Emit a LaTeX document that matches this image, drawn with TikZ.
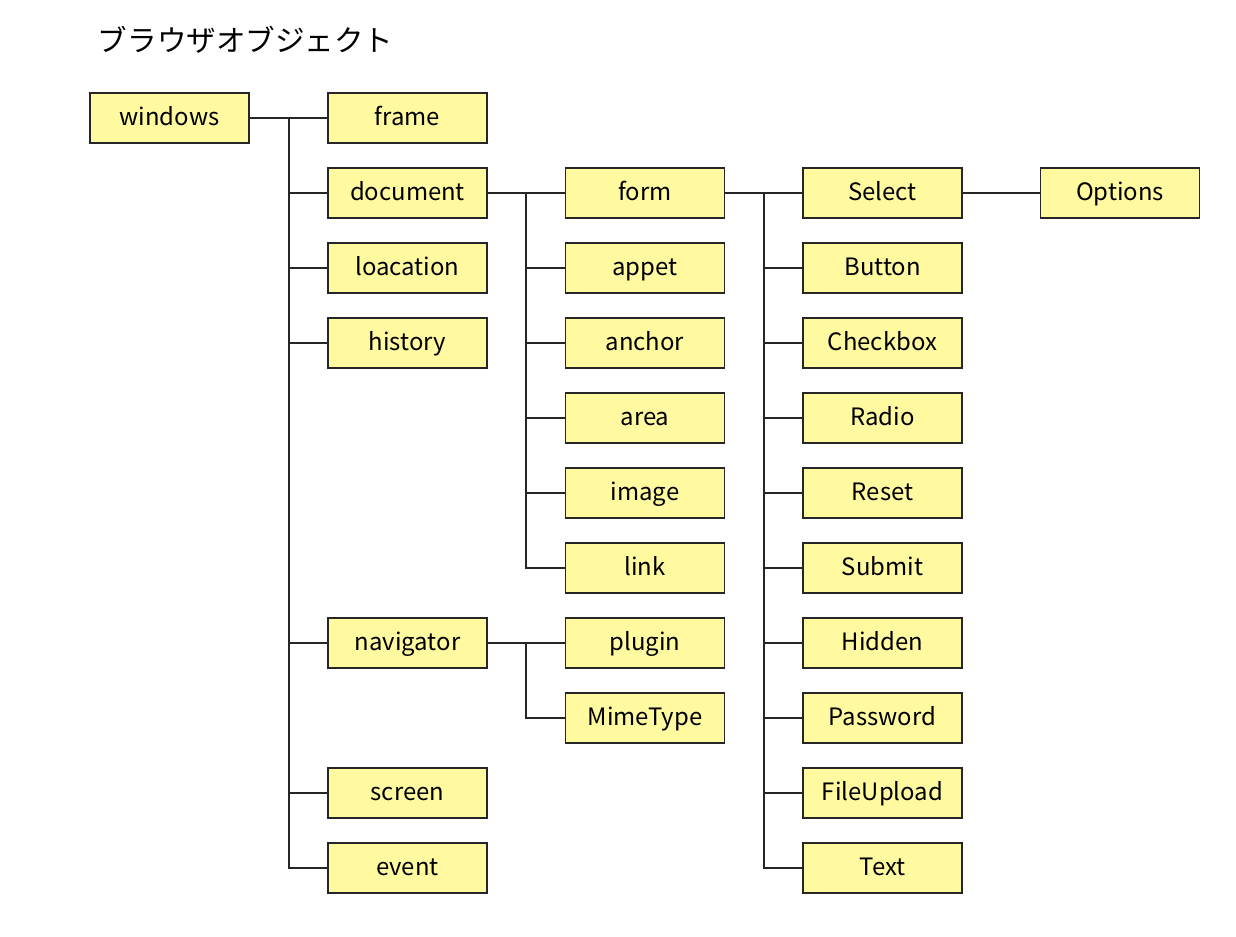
\documentclass[tikz,border=0pt]{standalone}
\usepackage{fontspec}
\setmainfont{Noto Sans CJK JP}
\usepackage{tikz}
\usetikzlibrary{positioning,calc}

\definecolor{boxfill}{RGB}{255,250,160}
\tikzset{
  objbox/.style={draw=black!85, fill=boxfill, line width=1.3pt, minimum width=3.975cm,
    minimum height=1.25cm, inner sep=0pt, text height=2ex, text depth=0.15ex,
    font=\fontsize{17}{20}\selectfont},
  link/.style={line width=1.3pt, black!85}
}

\begin{document}
\begin{tikzpicture}[x=0.025cm, y=-0.025cm]
        \useasboundingbox (0,0) rectangle (1236,936);
        \node[anchor=west, font=\fontsize{21}{25}\selectfont] (title) at (93,40) {ブラウザオブジェクト};

        % column 1 and 2
        \node[objbox] (windows) at (169.5,118) {windows};
        \node[objbox] (frame) at (407.5,118) {frame};
        \node[objbox] (document) at (407.5,193) {document};
        \node[objbox] (location) at (407.5,268) {loacation};
        \node[objbox] (history) at (407.5,343) {history};
        \node[objbox] (navigator) at (407.5,643) {navigator};
        \node[objbox] (screen) at (407.5,793) {screen};
        \node[objbox] (event) at (407.5,868) {event};

        % column 3
        \node[objbox] (form) at (645,193) {form};
        \node[objbox] (appet) at (645,268) {appet};
        \node[objbox] (anchor) at (645,343) {anchor};
        \node[objbox] (area) at (645,418) {area};
        \node[objbox] (image) at (645,493) {image};
        \node[objbox] (linkobj) at (645,568) {link};
        \node[objbox] (plugin) at (645,643) {plugin};
        \node[objbox] (mimetype) at (645,718) {MimeType};

        % column 4 and 5
        \node[objbox] (select) at (882.5,193) {Select};
        \node[objbox] (button) at (882.5,268) {Button};
        \node[objbox] (checkbox) at (882.5,343) {Checkbox};
        \node[objbox] (radio) at (882.5,418) {Radio};
        \node[objbox] (reset) at (882.5,493) {Reset};
        \node[objbox] (submit) at (882.5,568) {Submit};
        \node[objbox] (hidden) at (882.5,643) {Hidden};
        \node[objbox] (password) at (882.5,718) {Password};
        \node[objbox] (fileupload) at (882.5,793) {FileUpload};
        \node[objbox] (text) at (882.5,868) {Text};
        \node[objbox] (options) at (1120,193) {Options};

        % bus lines
        \coordinate (busA) at (289,118);
        \coordinate (busB) at (526,193);
        \coordinate (busC) at (526,643);
        \coordinate (busD) at (764,193);

        \draw[link] (windows) -- (frame);
        \foreach \n in {document,location,history,navigator,screen,event}
          \draw[link] (busA) |- (\n.west);

        \draw[link] (document) -- (form);
        \foreach \n in {appet,anchor,area,image,linkobj}
          \draw[link] (busB) |- (\n.west);

        \draw[link] (navigator) -- (plugin);
        \draw[link] (busC) |- (mimetype.west);

        \draw[link] (form) -- (select);
        \foreach \n in {button,checkbox,radio,reset,submit,hidden,password,fileupload,text}
          \draw[link] (busD) |- (\n.west);

        \draw[link] (select) -- (options);
    \end{tikzpicture}
\end{document}
